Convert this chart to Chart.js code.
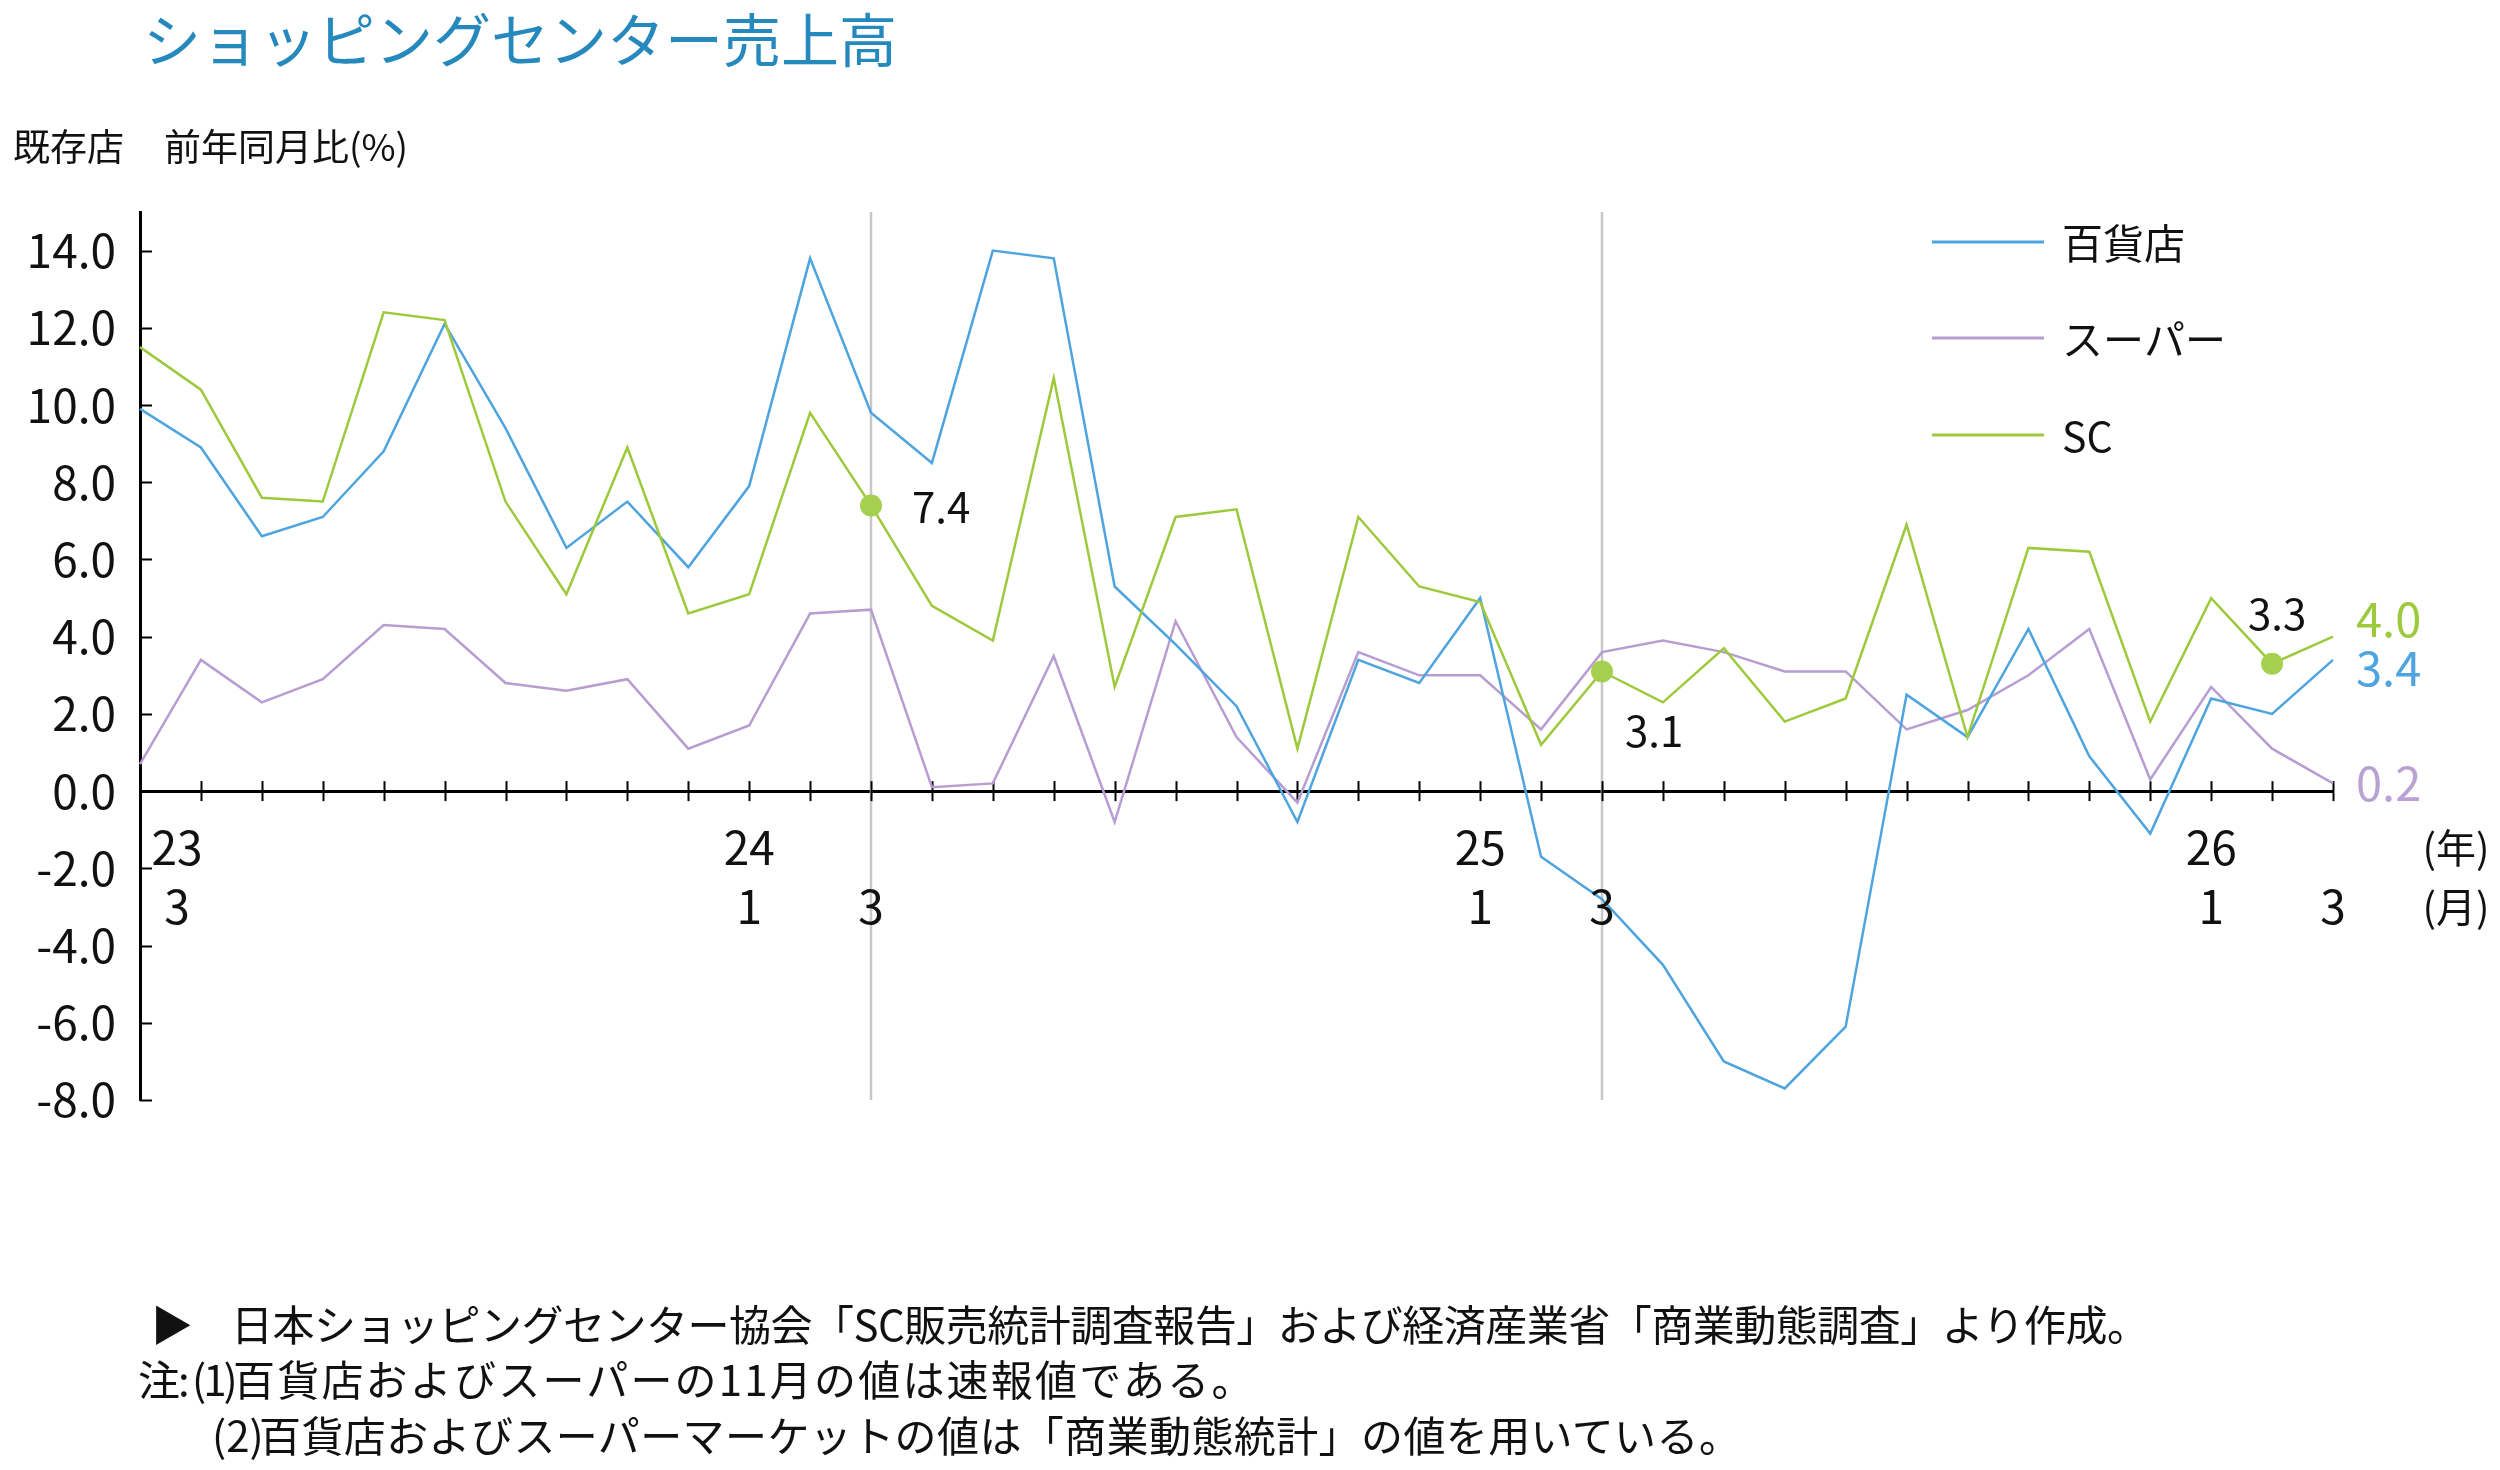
<!DOCTYPE html>
<html lang="ja">
<head>
<meta charset="utf-8">
<title>ショッピングセンター売上高</title>
<script src="https://cdn.jsdelivr.net/npm/chart.js@4.4.1/dist/chart.umd.min.js"></script>
<style>
  html, body { margin: 0; padding: 0; background: #ffffff; }
  #wrap { position: relative; width: 2500px; height: 1470px; overflow: hidden; background: #fff; }
  #chart { position: absolute; left: 0; top: 0; }
  .txt { position: absolute; white-space: nowrap; line-height: 1; font-family: 'Noto Sans CJK JP', 'Noto Sans', sans-serif; color: #111; }
  #title { left: 143px; top: 8px; font-size: 58px; color: #2589bd; }
  .unit { top: 127px; font-size: 37px; }
  .note { font-size: 42px; }
</style>
</head>
<body>
<div id="wrap">
  <canvas id="chart" width="2500" height="1470"></canvas>
  <div id="title" class="txt">ショッピングセンター売上高</div>
  <div class="txt unit" style="left:13px;">既存店</div>
  <div class="txt unit" style="left:164px;">前年同月比(%)</div>
  <div class="txt note" style="left:151px; top:1302px;">▶</div>
  <div class="txt note" style="left:231px; top:1302px; letter-spacing:-0.5px;">日本ショッピングセンター協会「SC販売統計調査報告」および経済産業省「商業動態調査」より作成。</div>
  <div class="txt note" style="left:138px; top:1357px;">注</div>
  <div class="txt note" style="left:178px; top:1357px;">:</div>
  <div class="txt note" style="left:192px; top:1357px; letter-spacing:-3px;">(1)</div>
  <div class="txt note" style="left:233px; top:1357px; letter-spacing:2.2px;">百貨店およびスーパーの11月の値は速報値である。</div>
  <div class="txt note" style="left:212px; top:1413px;">(2)</div>
  <div class="txt note" style="left:259px; top:1413px; letter-spacing:0.4px;">百貨店およびスーパーマーケットの値は「商業動態統計」の値を用いている。</div>
</div>
<script>
// ---------------- data ----------------
const categories = [
  '2023/3','2023/4','2023/5','2023/6','2023/7','2023/8','2023/9','2023/10','2023/11','2023/12',
  '2024/1','2024/2','2024/3','2024/4','2024/5','2024/6','2024/7','2024/8','2024/9','2024/10','2024/11','2024/12',
  '2025/1','2025/2','2025/3','2025/4','2025/5','2025/6','2025/7','2025/8','2025/9','2025/10','2025/11','2025/12',
  '2026/1','2026/2','2026/3'
];
const seriesNames = ['百貨店', 'スーパー', 'SC'];
const deptStore = [
  9.9, 8.9, 6.6, 7.1, 8.8, 12.1, 9.4, 6.3, 7.5, 5.8,
  7.9, 13.8, 9.8, 8.5, 14.0, 13.8, 5.3, 3.8, 2.2, -0.8, 3.4, 2.8,
  5.0, -1.7, -2.8, -4.5, -7.0, -7.7, -6.1, 2.5, 1.4, 4.2, 0.9, -1.1,
  2.4, 2.0, 3.4
];
const supermarket = [
  0.7, 3.4, 2.3, 2.9, 4.3, 4.2, 2.8, 2.6, 2.9, 1.1,
  1.7, 4.6, 4.7, 0.1, 0.2, 3.5, -0.8, 4.4, 1.4, -0.3, 3.6, 3.0,
  3.0, 1.6, 3.6, 3.9, 3.6, 3.1, 3.1, 1.6, 2.1, 3.0, 4.2, 0.3,
  2.7, 1.1, 0.2
];
const scSales = [
  11.5, 10.4, 7.6, 7.5, 12.4, 12.2, 7.5, 5.1, 8.9, 4.6,
  5.1, 9.8, 7.4, 4.8, 3.9, 10.7, 2.7, 7.1, 7.3, 1.1, 7.1, 5.3,
  4.9, 1.2, 3.1, 2.3, 3.7, 1.8, 2.4, 6.9, 1.4, 6.3, 6.2, 1.8,
  5.0, 3.3, 4.0
];
// x-axis tick labels (year row / month row)
const yearTickIndex  = [0, 10, 22, 34];
const yearTickText   = ['23', '24', '25', '26'];
const monthTickIndex = [0, 10, 12, 22, 24, 34, 36];
const monthTickText  = ['3', '1', '3', '1', '3', '1', '3'];
// y-axis ticks
const yMin = -8, yMax = 15;
const yTickValues = [-8, -6, -4, -2, 0, 2, 4, 6, 8, 10, 12, 14];
// vertical separators (March of each fiscal year)
const dividerIndex = [12, 24];
// highlighted SC points with value labels
const highlightIndex = [12, 24, 35];

// ---------------- style ----------------
const COLORS = { dept: '#4ea4de', super: '#b79dd1', sc: '#9dc93c', dot: '#a5cf4e', divider: '#c8c8c8', axis: '#000', text: '#111' };
const FONT = "'Noto Sans CJK JP', 'Noto Sans', sans-serif";
Chart.defaults.font.family = FONT;

const highlightData = categories.map((c, i) => highlightIndex.includes(i) ? scSales[i] : null);

// offsets for annotation labels (pixels, relative to point)
const hlLabelStyle = [
  { dx: 41, dy: 2, align: 'left' },
  { dx: 23, dy: 60, align: 'left' },
  { dx: 5, dy: -50, align: 'center' }
];
const endLabelStyle = { dept: 8, super: 0, sc: -18 };

const overlay = {
  id: 'overlay',
  beforeDatasetsDraw(chart) {
    const { ctx, chartArea, scales: { x, y } } = chart;
    ctx.save();
    // vertical separators
    ctx.strokeStyle = COLORS.divider; ctx.lineWidth = 2.5;
    dividerIndex.forEach(i => {
      const px = x.getPixelForValue(i);
      ctx.beginPath(); ctx.moveTo(px, chartArea.top); ctx.lineTo(px, chartArea.bottom); ctx.stroke();
    });
    // x tick marks crossing the axis line
    ctx.strokeStyle = COLORS.axis; ctx.lineWidth = 2;
    const y0 = y.getPixelForValue(0);
    for (let i = 1; i < categories.length; i++) {
      const px = Math.round(x.getPixelForValue(i)) + 0.5;
      ctx.beginPath(); ctx.moveTo(px, y0 - 10); ctx.lineTo(px, y0 + 10); ctx.stroke();
    }
    // y tick marks pointing inward
    y.ticks.forEach(t => {
      const py = Math.round(y.getPixelForValue(t.value)) + 0.5;
      ctx.beginPath(); ctx.moveTo(chartArea.left, py); ctx.lineTo(chartArea.left + 12, py); ctx.stroke();
    });
    ctx.restore();
  },
  afterDraw(chart) {
    const { ctx, scales: { x, y } } = chart;
    ctx.save();
    ctx.fillStyle = COLORS.text;
    ctx.textBaseline = 'middle';
    // x labels
    ctx.font = `46px ${FONT}`;
    ctx.textAlign = 'center';
    const yearY = 848, monthY = 907;
    const shift = i => (i === 0 ? 37 : 0);
    yearTickIndex.forEach((i, k) => ctx.fillText(yearTickText[k], x.getPixelForValue(i) + shift(i), yearY));
    monthTickIndex.forEach((i, k) => ctx.fillText(monthTickText[k], x.getPixelForValue(i) + shift(i), monthY));
    ctx.font = `40px ${FONT}`;
    ctx.fillText('(年)', 2456, yearY);
    ctx.fillText('(月)', 2456, monthY);

    // highlighted point labels
    ctx.font = `42px ${FONT}`;
    highlightIndex.forEach((i, k) => {
      const s = hlLabelStyle[k];
      ctx.textAlign = s.align;
      ctx.fillText(scSales[i].toFixed(1), x.getPixelForValue(i) + s.dx, y.getPixelForValue(scSales[i]) + s.dy);
    });

    // end labels
    ctx.font = `47px ${FONT}`;
    ctx.textAlign = 'left';
    const last = categories.length - 1;
    const lx = x.getPixelForValue(last) + 23;
    [[scSales, COLORS.sc, endLabelStyle.sc], [deptStore, COLORS.dept, endLabelStyle.dept], [supermarket, '#b9a2d3', endLabelStyle.super]]
      .forEach(([arr, col, dy]) => {
        ctx.fillStyle = col;
        ctx.fillText(arr[last].toFixed(1), lx, y.getPixelForValue(arr[last]) + dy);
      });

    // legend
    ctx.font = `41px ${FONT}`;
    ctx.fillStyle = COLORS.text;
    const legendY = [242, 338, 435];
    chart.data.datasets.slice(0, 3).forEach((ds, k) => {
      ctx.strokeStyle = ds.borderColor; ctx.lineWidth = 3;
      ctx.beginPath(); ctx.moveTo(1932, legendY[k]); ctx.lineTo(2044, legendY[k]); ctx.stroke();
      ctx.fillText(ds.label, 2062, legendY[k] + 1);
    });
    ctx.restore();
  }
};

new Chart(document.getElementById('chart'), {
  type: 'line',
  data: {
    labels: categories,
    datasets: [
      { label: seriesNames[0], data: deptStore, borderColor: COLORS.dept, borderWidth: 2.5, pointRadius: 0, tension: 0, order: 2 },
      { label: seriesNames[1], data: supermarket, borderColor: COLORS.super, borderWidth: 2.5, pointRadius: 0, tension: 0, order: 3 },
      { label: seriesNames[2], data: scSales, borderColor: COLORS.sc, borderWidth: 2.5, pointRadius: 0, tension: 0, order: 1 },
      { label: 'highlight', data: highlightData, showLine: false, pointRadius: 11, pointHoverRadius: 11,
        pointBackgroundColor: COLORS.dot, pointBorderWidth: 0, borderColor: COLORS.dot, order: 0 }
    ]
  },
  options: {
    responsive: false,
    animation: false,
    devicePixelRatio: 1,
    layout: { padding: { left: 0, top: 212, right: 167, bottom: 370 } },
    plugins: { legend: { display: false }, tooltip: { enabled: false }, title: { display: false } },
    scales: {
      x: {
        type: 'category',
        position: { y: 0 },
        offset: false,
        grid: { display: false, drawTicks: false },
        border: { display: true, color: COLORS.axis, width: 3 },
        ticks: { display: false }
      },
      y: {
        min: yMin, max: yMax,
        ticks: { callback: v => Number(v).toFixed(1), font: { size: 46 }, color: COLORS.text, padding: 24, autoSkip: false },
        grid: { display: false, drawTicks: false },
        border: { display: true, color: COLORS.axis, width: 3 },
        afterBuildTicks: s => { s.ticks = yTickValues.map(v => ({ value: v })); },
        afterFit: s => { s.width = 140; }
      }
    }
  },
  plugins: [overlay]
});
</script>
</body>
</html>
